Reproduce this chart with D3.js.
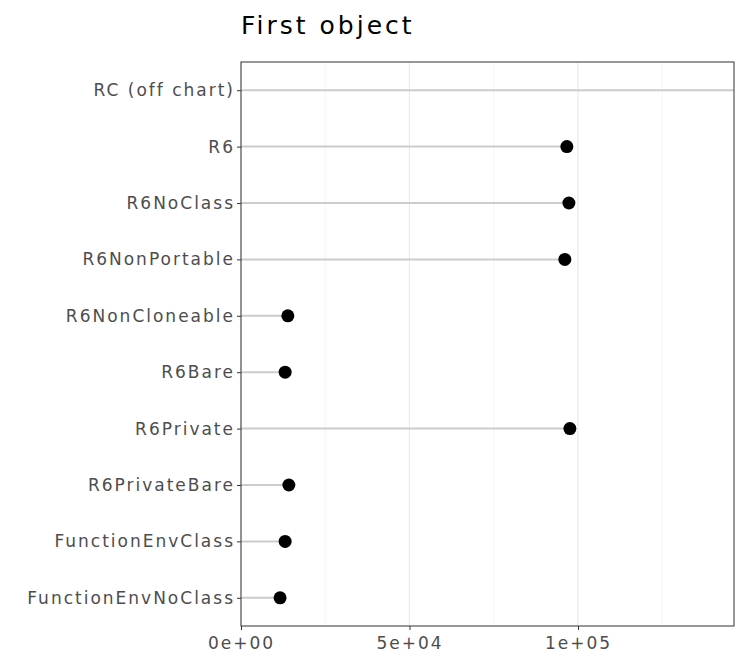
<!DOCTYPE html>
<html><head><meta charset="utf-8">
<script src="https://cdn.jsdelivr.net/npm/d3@7"></script>
<style>body{margin:0;background:#fff}text{font-family:"DejaVu Sans",sans-serif}</style>
</head><body>
<svg id="chart" width="748" height="672"></svg>
<script>
const categories = ["RC (off chart)", "R6", "R6NoClass", "R6NonPortable", "R6NonCloneable",
  "R6Bare", "R6Private", "R6PrivateBare", "FunctionEnvClass", "FunctionEnvNoClass"];
const values = [400000, 96700, 97300, 96100, 13900, 13100, 97600, 14200, 13100, 11600];
const xTicks = [0, 50000, 100000];
const xTickLabels = ["0e+00", "5e+04", "1e+05"];
const minorTicks = [25000, 75000, 125000];

const margin = {top: 62, right: 14, bottom: 46, left: 241};
const width = 748, height = 672;
const svg = d3.select("#chart");

const x = d3.scaleLinear().domain([0, 146300]).range([margin.left, width - margin.right]);
const y = d3.scalePoint().domain(categories).range([margin.top, height - margin.bottom]).padding(0.5);

const g = svg.append("g");
g.append("defs").append("clipPath").attr("id", "clip")
  .append("rect").attr("x", margin.left).attr("y", margin.top)
  .attr("width", width - margin.right - margin.left).attr("height", height - margin.bottom - margin.top);

// grid
g.selectAll(".minor").data(minorTicks).enter().append("line")
  .attr("x1", d => x(d)).attr("x2", d => x(d))
  .attr("y1", margin.top).attr("y2", height - margin.bottom)
  .attr("stroke", "#ebebeb").attr("stroke-width", 0.6);
g.selectAll(".major").data(xTicks).enter().append("line")
  .attr("x1", d => x(d)).attr("x2", d => x(d))
  .attr("y1", margin.top).attr("y2", height - margin.bottom)
  .attr("stroke", "#ebebeb").attr("stroke-width", 1.2);

const marks = g.append("g").attr("clip-path", "url(#clip)");
marks.selectAll(".stem").data(categories).enter().append("line")
  .attr("x1", x(0)).attr("x2", (d, i) => x(values[i]))
  .attr("y1", d => y(d)).attr("y2", d => y(d))
  .attr("stroke", "#cccccc").attr("stroke-width", 2);
marks.selectAll(".dot").data(categories.filter((d, i) => values[i] < 146300)).enter().append("circle")
  .attr("cx", d => x(values[categories.indexOf(d)])).attr("cy", d => y(d))
  .attr("r", 6.5).attr("fill", "#000");

// panel border
g.append("rect").attr("x", margin.left).attr("y", margin.top)
  .attr("width", width - margin.right - margin.left).attr("height", height - margin.bottom - margin.top)
  .attr("fill", "none").attr("stroke", "#333").attr("stroke-width", 1);

// axes
const xAxis = d3.axisBottom(x).tickValues(xTicks).tickFormat((d, i) => xTickLabels[i]).tickSize(4).tickPadding(4);
const xa = g.append("g").attr("transform", `translate(0,${height - margin.bottom})`).call(xAxis);
const yAxis = d3.axisLeft(y).tickSize(4).tickPadding(4);
const ya = g.append("g").attr("transform", `translate(${margin.left},0)`).call(yAxis);
[xa, ya].forEach(a => {
  a.select(".domain").remove();
  a.selectAll(".tick line").attr("stroke", "#333");
  a.selectAll(".tick text").attr("fill", "#4d4d4d").style("font-size", "17px").style("letter-spacing", "2px");
});
ya.selectAll(".tick text").attr("dx", "2px");
xa.selectAll(".tick text").attr("dy", "0.9em");

svg.append("text").attr("x", margin.left).attr("y", 34)
  .style("font-size", "25px").style("letter-spacing", "3px").attr("fill", "#000").text("First object");
</script>
</body></html>
